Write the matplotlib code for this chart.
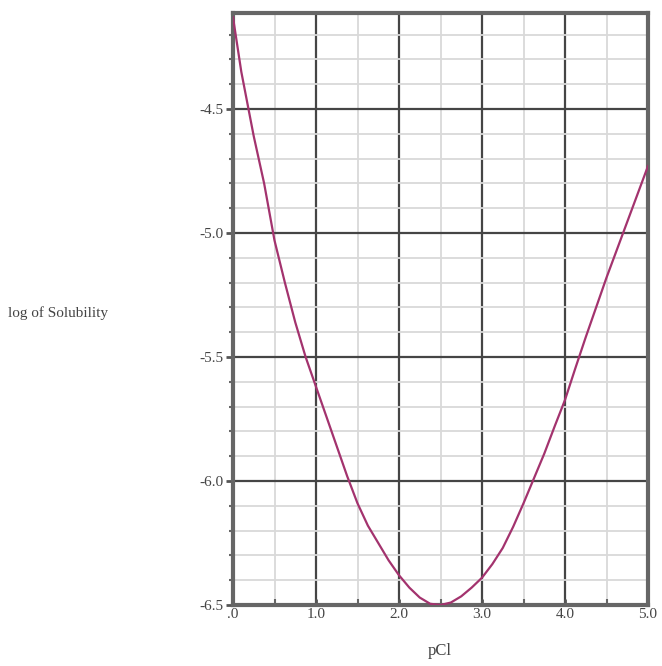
import numpy as np
import matplotlib
matplotlib.use('Agg')
import matplotlib.pyplot as plt
from matplotlib.ticker import MultipleLocator

# values
pcl = [0.0, 0.1, 0.25, 0.375, 0.5, 0.625, 0.75, 0.875, 1.0, 1.125, 1.25, 1.375,
       1.5, 1.625, 1.75, 1.875, 2.0, 2.125, 2.25, 2.375, 2.5, 2.625, 2.75, 2.875,
       3.0, 3.125, 3.25, 3.375, 3.5, 3.625, 3.75, 3.875, 4.0, 4.125, 4.25, 4.5,
       4.75, 5.0]
log_s = [-4.13, -4.35, -4.61, -4.80, -5.03, -5.20, -5.36, -5.50, -5.62, -5.74,
         -5.86, -5.98, -6.09, -6.18, -6.25, -6.32, -6.38, -6.43, -6.47, -6.495,
         -6.50, -6.49, -6.465, -6.43, -6.39, -6.335, -6.27, -6.185, -6.09,
         -5.99, -5.89, -5.78, -5.673, -5.545, -5.42, -5.18, -4.955, -4.73]

x_ticks = [0, 1, 2, 3, 4, 5]
x_labels = ['.0', '1.0', '2.0', '3.0', '4.0', '5.0']
y_ticks = [-6.5, -6.0, -5.5, -5.0, -4.5]
y_labels = ['-6.5', '-6.0', '-5.5', '-5.0', '-4.5']

plt.rcParams['font.family'] = ['Liberation Serif', 'DejaVu Serif']

fig = plt.figure(figsize=(6.62, 6.66), dpi=100)
ax = fig.add_axes([233/662, 1 - 605/666, 415/662, 592/666])

ax.plot(pcl, log_s, color='#a3336e', lw=1.6, zorder=5)

ax.set_xlim(0, 5)
ax.set_ylim(-6.5, -4.113)

ax.set_xticks(x_ticks)
ax.set_xticklabels(x_labels)
ax.set_yticks(y_ticks)
ax.set_yticklabels(y_labels)
ax.xaxis.set_minor_locator(MultipleLocator(0.5))
ax.yaxis.set_minor_locator(MultipleLocator(0.1))

ax.grid(which='major', color='#454545', lw=1.6)
ax.grid(which='minor', color='#d9d9d9', lw=1.3)
ax.set_axisbelow(True)

ax.tick_params(which='major', direction='out', length=5, width=2, color='#555555',
               labelsize=11, labelcolor='#444444', pad=2)
ax.tick_params(which='minor', direction='out', length=3, width=1.5, color='#666666')
ax.tick_params(axis='x', which='both', direction='in', length=4)

for s in ax.spines.values():
    s.set_color('#666666')
    s.set_linewidth(3)

fig.text(8/662, 1 - 313/666, 'log of Solubility', fontsize=11, color='#444444',
         ha='left', va='center')
fig.text(440/662, 1 - 651/666, 'pCl', fontsize=12, color='#444444',
         ha='center', va='center')

fig.savefig('out.png', dpi=100)
